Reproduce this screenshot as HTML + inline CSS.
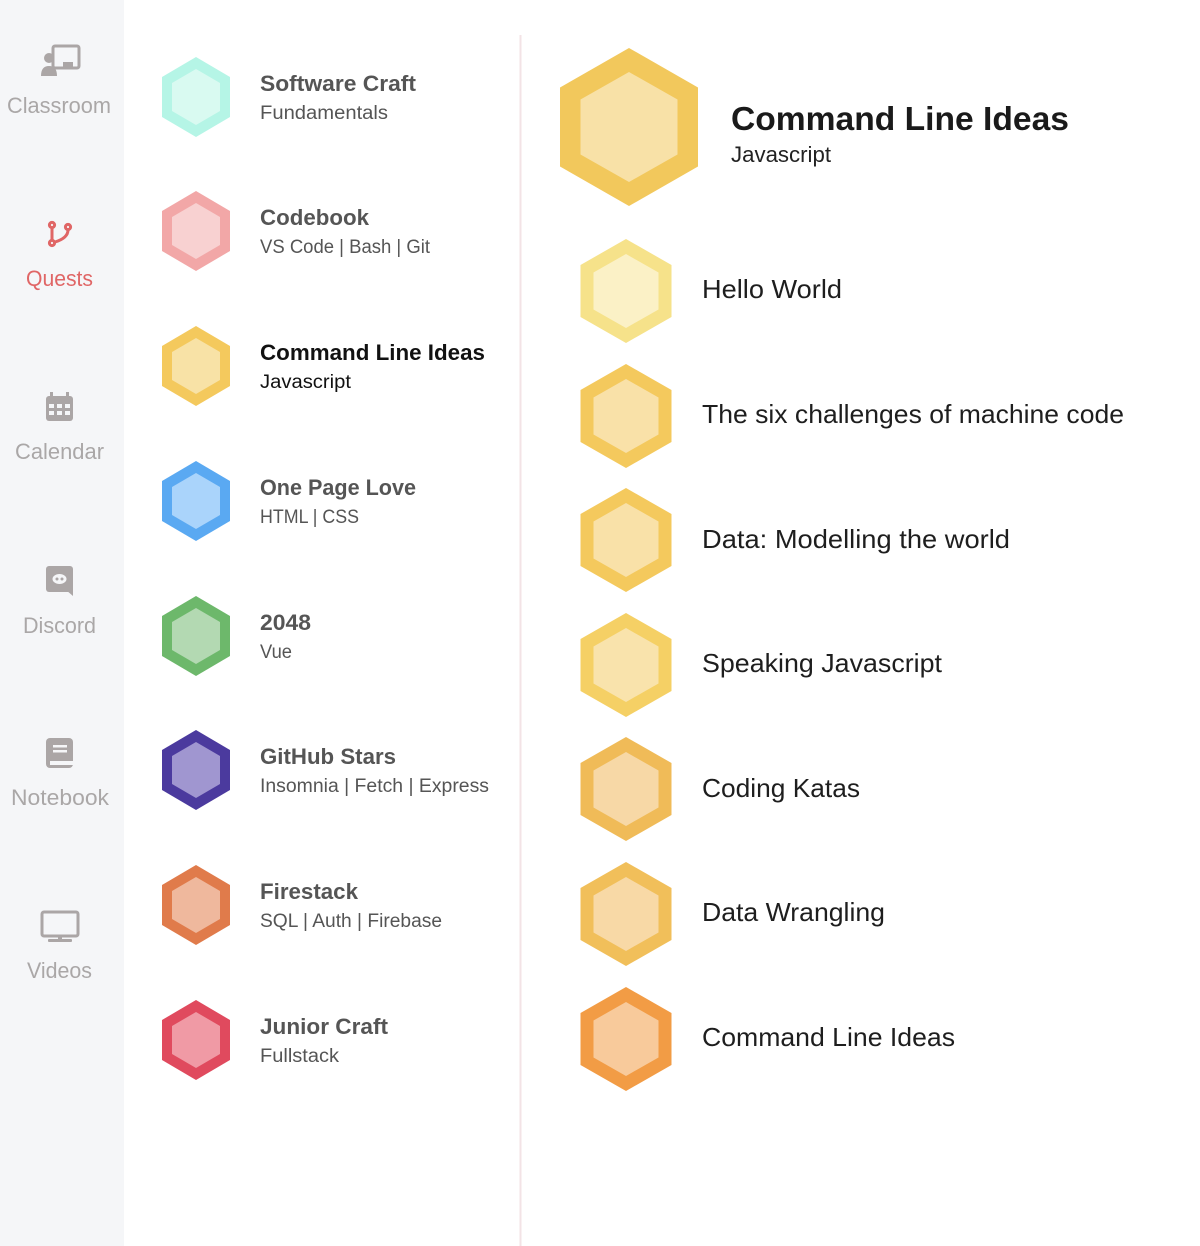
<!DOCTYPE html>
<html><head><meta charset="utf-8"><style>
html,body{margin:0;padding:0;background:#fff;}
svg{display:block;font-family:"Liberation Sans",sans-serif;}
</style></head><body>
<svg width="1200" height="1246" viewBox="0 0 1200 1246" xmlns="http://www.w3.org/2000/svg">
<defs>
<polygon id="h" points="0,-1 1,-0.5 1,0.5 0,1 -1,0.5 -1,-0.5"/>
</defs>
<rect x="0" y="0" width="124" height="1246" fill="#f5f6f8"/>
<line x1="520.5" y1="35" x2="520.5" y2="1246" stroke="#f3e3e6" stroke-width="2"/>

<!-- sidebar icons -->
<g fill="#aba6a6">
 <!-- classroom -->
 <rect x="53" y="46" width="26" height="22" rx="2" fill="none" stroke="#aba6a6" stroke-width="3"/>
 <rect x="63" y="62" width="10" height="6" fill="#aba6a6"/>
 <circle cx="49" cy="58" r="5"/>
 <path d="M41 76 q0 -10 8 -10 q8 0 8 10 z"/>
 <!-- calendar -->
 <rect x="46" y="396" width="27" height="25" rx="3"/>
 <rect x="50" y="392" width="3" height="6"/><rect x="66" y="392" width="3" height="6"/>
 <g fill="#f5f6f8"><rect x="49" y="404" width="5" height="4"/><rect x="57" y="404" width="5" height="4"/><rect x="65" y="404" width="5" height="4"/>
 <rect x="49" y="411" width="5" height="4"/><rect x="57" y="411" width="5" height="4"/><rect x="65" y="411" width="5" height="4"/></g>
 <!-- discord -->
 <rect x="46" y="566" width="27" height="26" rx="3"/>
 <path d="M66 590 l7 6 v-8 z"/>
 <ellipse cx="59.5" cy="579" rx="7" ry="5" fill="#f5f6f8"/>
 <circle cx="57" cy="579" r="1.5"/><circle cx="62" cy="579" r="1.5"/>
 <!-- notebook -->
 <rect x="46" y="738" width="27" height="30" rx="4"/>
 <rect x="50" y="761" width="23" height="4" fill="#f5f6f8"/>
 <rect x="53" y="745" width="14" height="2.5" fill="#f5f6f8"/><rect x="53" y="750" width="14" height="2.5" fill="#f5f6f8"/>
 <!-- videos -->
 <rect x="42" y="912" width="36" height="24" rx="2" fill="none" stroke="#aba6a6" stroke-width="3"/>
 <rect x="58" y="936" width="4" height="4"/><rect x="48" y="939" width="24" height="3" rx="1"/>
</g>
<!-- quests -->
<g stroke="#e06666" stroke-width="3" fill="none">
 <circle cx="52" cy="225" r="2.6"/><circle cx="68" cy="227" r="2.6"/><circle cx="52" cy="243" r="2.6"/>
 <path d="M52 228 v12"/><path d="M68 230 q0 8 -13 12"/>
</g>

<g font-size="22" fill="#aaa7a7" text-anchor="start">
 <text x="7" y="113" textLength="104" lengthAdjust="spacingAndGlyphs">Classroom</text>
 <text x="26" y="286" fill="#e06666" textLength="67" lengthAdjust="spacingAndGlyphs">Quests</text>
 <text x="15" y="459" textLength="89" lengthAdjust="spacingAndGlyphs">Calendar</text>
 <text x="23" y="633" textLength="73" lengthAdjust="spacingAndGlyphs">Discord</text>
 <text x="11" y="805" textLength="98" lengthAdjust="spacingAndGlyphs">Notebook</text>
 <text x="27" y="978" textLength="65" lengthAdjust="spacingAndGlyphs">Videos</text>
</g>

<!-- left hexes -->
<g>
 <use href="#h" transform="translate(196,97) scale(34,40)" fill="#b5f5e6"/><use href="#h" transform="translate(196,97) scale(24,28)" fill="#d9faf1"/>
 <use href="#h" transform="translate(196,231) scale(34,40)" fill="#f2a7a7"/><use href="#h" transform="translate(196,231) scale(24,28)" fill="#f8d1d1"/>
 <use href="#h" transform="translate(196,366) scale(34,40)" fill="#f4c95d"/><use href="#h" transform="translate(196,366) scale(24,28)" fill="#f8e2a6"/>
 <use href="#h" transform="translate(196,501) scale(34,40)" fill="#5aa9f2"/><use href="#h" transform="translate(196,501) scale(24,28)" fill="#aad4fb"/>
 <use href="#h" transform="translate(196,636) scale(34,40)" fill="#6db86b"/><use href="#h" transform="translate(196,636) scale(24,28)" fill="#b3d9b2"/>
 <use href="#h" transform="translate(196,770) scale(34,40)" fill="#4b3a9e"/><use href="#h" transform="translate(196,770) scale(24,28)" fill="#a096d0"/>
 <use href="#h" transform="translate(196,905) scale(34,40)" fill="#e07b4b"/><use href="#h" transform="translate(196,905) scale(24,28)" fill="#efb89d"/>
 <use href="#h" transform="translate(196,1040) scale(34,40)" fill="#e04a5e"/><use href="#h" transform="translate(196,1040) scale(24,28)" fill="#f09aa5"/>
</g>
<g font-size="22" font-weight="bold" fill="#555">
 <text x="260" y="91" textLength="156" lengthAdjust="spacingAndGlyphs">Software Craft</text>
 <text x="260" y="225" textLength="109" lengthAdjust="spacingAndGlyphs">Codebook</text>
 <text x="260" y="360" fill="#111" textLength="225" lengthAdjust="spacingAndGlyphs">Command Line Ideas</text>
 <text x="260" y="495" textLength="156" lengthAdjust="spacingAndGlyphs">One Page Love</text>
 <text x="260" y="630" textLength="51" lengthAdjust="spacingAndGlyphs">2048</text>
 <text x="260" y="764" textLength="136" lengthAdjust="spacingAndGlyphs">GitHub Stars</text>
 <text x="260" y="899" textLength="98" lengthAdjust="spacingAndGlyphs">Firestack</text>
 <text x="260" y="1034" textLength="128" lengthAdjust="spacingAndGlyphs">Junior Craft</text>
</g>
<g font-size="19" fill="#555">
 <text x="260" y="119" textLength="128" lengthAdjust="spacingAndGlyphs">Fundamentals</text>
 <text x="260" y="253" textLength="170" lengthAdjust="spacingAndGlyphs">VS Code | Bash | Git</text>
 <text x="260" y="388" fill="#111" textLength="91" lengthAdjust="spacingAndGlyphs">Javascript</text>
 <text x="260" y="523" textLength="99" lengthAdjust="spacingAndGlyphs">HTML | CSS</text>
 <text x="260" y="658" textLength="32" lengthAdjust="spacingAndGlyphs">Vue</text>
 <text x="260" y="792" textLength="229" lengthAdjust="spacingAndGlyphs">Insomnia | Fetch | Express</text>
 <text x="260" y="927" textLength="182" lengthAdjust="spacingAndGlyphs">SQL | Auth | Firebase</text>
 <text x="260" y="1062" textLength="79" lengthAdjust="spacingAndGlyphs">Fullstack</text>
</g>

<!-- right -->
<use href="#h" transform="translate(629,127) scale(69,79)" fill="#f2c85c"/><use href="#h" transform="translate(629,127) scale(48.5,55)" fill="#f8e1a7"/>
<text x="731" y="130" font-size="33" font-weight="bold" fill="#1a1a1a" textLength="338" lengthAdjust="spacingAndGlyphs">Command Line Ideas</text>
<text x="731" y="162" font-size="22" fill="#222" textLength="100" lengthAdjust="spacingAndGlyphs">Javascript</text>

<g>
 <use href="#h" transform="translate(626,291) scale(45.5,52)" fill="#f6e28a"/><use href="#h" transform="translate(626,291) scale(32.5,37)" fill="#fbf1c6"/>
 <use href="#h" transform="translate(626,416) scale(45.5,52)" fill="#f4c95d"/><use href="#h" transform="translate(626,416) scale(32.5,37)" fill="#f9e1a8"/>
 <use href="#h" transform="translate(626,540) scale(45.5,52)" fill="#f4c95d"/><use href="#h" transform="translate(626,540) scale(32.5,37)" fill="#f9e1a8"/>
 <use href="#h" transform="translate(626,665) scale(45.5,52)" fill="#f5d065"/><use href="#h" transform="translate(626,665) scale(32.5,37)" fill="#f9e3ac"/>
 <use href="#h" transform="translate(626,789) scale(45.5,52)" fill="#f0bb58"/><use href="#h" transform="translate(626,789) scale(32.5,37)" fill="#f7d8a6"/>
 <use href="#h" transform="translate(626,914) scale(45.5,52)" fill="#f1bf5a"/><use href="#h" transform="translate(626,914) scale(32.5,37)" fill="#f8d9a6"/>
 <use href="#h" transform="translate(626,1039) scale(45.5,52)" fill="#f29c45"/><use href="#h" transform="translate(626,1039) scale(32.5,37)" fill="#f8ca9b"/>
</g>
<g font-size="26" fill="#1e1e1e">
 <text x="702" y="298" textLength="140" lengthAdjust="spacingAndGlyphs">Hello World</text>
 <text x="702" y="423" textLength="422" lengthAdjust="spacingAndGlyphs">The six challenges of machine code</text>
 <text x="702" y="548" textLength="308" lengthAdjust="spacingAndGlyphs">Data: Modelling the world</text>
 <text x="702" y="672" textLength="240" lengthAdjust="spacingAndGlyphs">Speaking Javascript</text>
 <text x="702" y="797" textLength="158" lengthAdjust="spacingAndGlyphs">Coding Katas</text>
 <text x="702" y="921" textLength="183" lengthAdjust="spacingAndGlyphs">Data Wrangling</text>
 <text x="702" y="1046" textLength="253" lengthAdjust="spacingAndGlyphs">Command Line Ideas</text>
</g>
</svg>
</body></html>
